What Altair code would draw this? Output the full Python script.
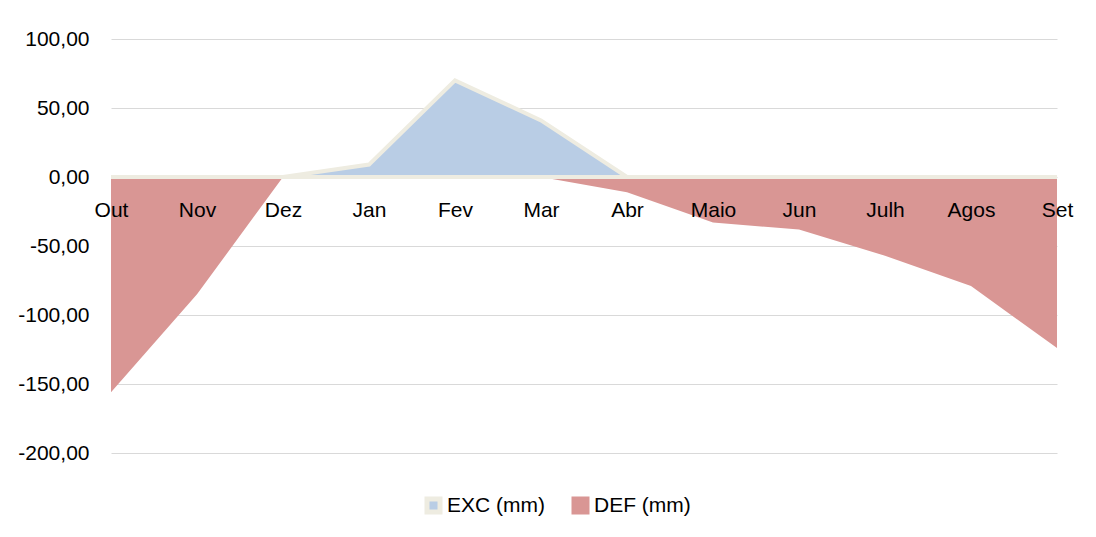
import altair as alt
import pandas as pd

months = ["Out", "Nov", "Dez", "Jan", "Fev", "Mar", "Abr", "Maio", "Jun", "Julh", "Agos", "Set"]
exc_values = [0, 0, 0, 9, 70, 41, 0, 0, 0, 0, 0, 0]
def_values = [-156, -85, 0, 0, 0, 0, -11, -33, -38, -57, -79, -124]
series = ["EXC (mm)", "DEF (mm)"]
y_ticks = [100, 50, 0, -50, -100, -150, -200]

df = pd.DataFrame({
    "Mes": months * 2,
    "Valor": exc_values + def_values,
    "Serie": [series[0]] * len(months) + [series[1]] * len(months),
})

FONT = "Liberation Sans Narrow, Arial Narrow, Liberation Sans, Arial, sans-serif"
FS = 21
W, H = 946, 414

legend = alt.Legend(
    title=None, orient="none", legendX=312, legendY=456, direction="horizontal",
    symbolType="square", symbolSize=169, symbolStrokeWidth=5,
    labelFontSize=FS, labelFont=FONT, labelColor="black", labelOffset=3,
    columnPadding=19,
)

x = alt.X(
    "Mes:N", sort=months,
    scale=alt.Scale(type="point", padding=0),
    axis=alt.Axis(
        title=None, orient="bottom", offset=-276, domain=False, ticks=False,
        labelPadding=22, labelAngle=0, labelFontSize=FS, labelFont=FONT,
        labelColor="black", labelOverlap=False, labelFlush=False, grid=False,
        labelBaseline="top", zindex=1,
    ),
)
y_scale = alt.Scale(domain=[-200, 100], nice=False, zero=False)
y_axis = alt.Axis(
    title=None, values=y_ticks, domain=False, ticks=False, labelPadding=22,
    labelExpr="(datum.value < 0 ? '-' : '') + replace(format(abs(datum.value), '.2f'), '.', ',')",
    labelFontSize=FS, labelFont=FONT, labelColor="black",
    gridColor="#D9D9D9", gridWidth=1.2, zindex=0,
)
y = alt.Y("Valor:Q", stack=None, scale=y_scale, axis=y_axis)
fill = alt.Fill("Serie:N", scale=alt.Scale(domain=series, range=["#B9CDE5", "#D99694"]), legend=legend)
stroke = alt.Stroke("Serie:N", scale=alt.Scale(domain=series, range=["#EEECE1", "#D99694"]), legend=legend)

base = alt.Chart(df).encode(x=x, y=y, fill=fill, stroke=stroke)

def_layer = base.transform_filter(alt.datum.Serie == series[1]).mark_area(strokeWidth=0, opacity=1)
exc_layer = base.transform_filter(alt.datum.Serie == series[0]).mark_area(strokeWidth=4, opacity=1)

chart = alt.layer(def_layer, exc_layer).properties(
    width=W, height=H,
    padding={"left": 103, "top": 31, "right": 30, "bottom": 66},
    autosize=alt.AutoSizeParams(type="none"),
    background="white",
).configure_view(stroke=None)

chart.save("out.html", embed_options={"renderer": "svg", "actions": False})
